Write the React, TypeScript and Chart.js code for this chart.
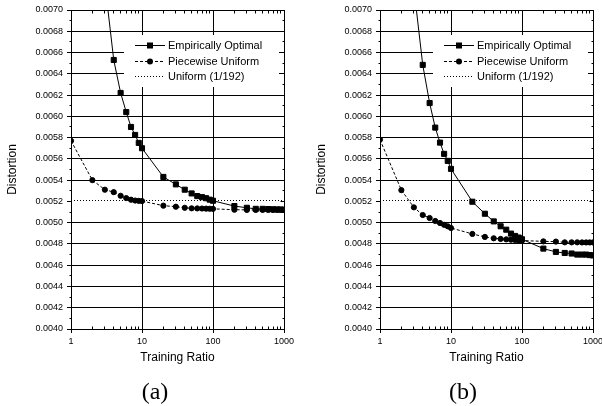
import React, { useEffect, useRef } from "react";
import { Chart, registerables } from "chart.js";

Chart.register(...registerables);
Chart.defaults.font.family = "'Liberation Sans', Arial, sans-serif";
Chart.defaults.color = "#000";

// ---------- data ----------
const SERIES_NAMES = ["Empirically Optimal", "Piecewise Uniform", "Uniform (1/192)"];
const PANEL_LABELS = ["(a)", "(b)"];
const X_TITLE = "Training Ratio";
const Y_TITLE = "Distortion";

const X_LABELS = [1, 10, 100, 1000];
const Y_MIN = 0.004;
const Y_MAX = 0.007;
const Y_STEP = 0.0002;
const UNIFORM = 1 / 192;
const UNIFORM_X = [1, 1000];

const X_EO = [3, 4, 5, 6, 7, 8, 9, 10, 20, 30, 40, 50, 60, 70, 80, 90, 100, 200, 300, 400, 500, 600, 700, 800, 900, 1000];
const X_PU = [1, 2, 3, 4, 5, 6, 7, 8, 9, 10, 20, 30, 40, 50, 60, 70, 80, 90, 100, 200, 300, 400, 500, 600, 700, 800, 900, 1000];

const EO_A = [0.00725, 0.00653, 0.00622, 0.00604, 0.0059, 0.005825, 0.00575, 0.0057, 0.00543, 0.00536, 0.00531, 0.005275, 0.00525, 0.00524, 0.00523, 0.005216, 0.005206, 0.005156, 0.00514, 0.00513, 0.00513, 0.005128, 0.005126, 0.005125, 0.005124, 0.005122];
const PU_A = [0.00577, 0.0054, 0.00531, 0.005287, 0.005253, 0.005231, 0.005216, 0.005208, 0.005205, 0.005203, 0.00516, 0.00515, 0.00514, 0.005135, 0.005134, 0.005133, 0.005132, 0.005131, 0.00513, 0.005122, 0.00512, 0.00512, 0.00512, 0.00512, 0.00512, 0.00512, 0.00512, 0.00512];

const EO_B = [0.007206, 0.006484, 0.006125, 0.005894, 0.005753, 0.005647, 0.005581, 0.005506, 0.005197, 0.005084, 0.005012, 0.004966, 0.004934, 0.004897, 0.004875, 0.00486, 0.004844, 0.004756, 0.004725, 0.004715, 0.00471, 0.0047, 0.0047, 0.0047, 0.004695, 0.004692];
const PU_B = [0.005781, 0.005306, 0.005144, 0.005072, 0.005044, 0.005016, 0.004997, 0.00498, 0.004966, 0.00495, 0.004894, 0.004866, 0.004853, 0.004847, 0.004843, 0.00484, 0.004837, 0.004834, 0.004832, 0.004824, 0.004822, 0.004815, 0.004815, 0.004815, 0.004814, 0.004814, 0.004814, 0.004814];

// ---------- helpers ----------
const al = (p: number) => Math.round(p - 0.5) + 0.5;

const framePlugin = {
  id: "frameTicks",
  afterDraw(chart: any) {
    const { ctx, chartArea: a } = chart;
    const xs = chart.scales.x;
    const ys = chart.scales.y;
    const L = al(a.left), R = al(a.right), T = al(a.top), B = al(a.bottom);
    ctx.save();
    ctx.strokeStyle = "#000";
    ctx.lineWidth = 1;
    ctx.setLineDash([]);
    ctx.beginPath();
    ctx.rect(L, T, R - L, B - T);
    // y ticks: majors inward on right, minors (midpoints) outward left / inward right
    const yt = ys.ticks.map((t: any) => t.value);
    yt.forEach((v: number, i: number) => {
      const py = al(ys.getPixelForValue(v));
      ctx.moveTo(R, py); ctx.lineTo(R - 4, py);
      if (i < yt.length - 1) {
        const pm = al(ys.getPixelForValue((v + yt[i + 1]) / 2));
        ctx.moveTo(L, pm); ctx.lineTo(L - 2, pm);
        ctx.moveTo(R, pm); ctx.lineTo(R - 2, pm);
      }
    });
    // x ticks: majors inward top, minors (2..9 per decade) inward top and bottom
    const xt = xs.ticks.map((t: any) => t.value);
    xt.forEach((v: number, i: number) => {
      const px = al(xs.getPixelForValue(v));
      ctx.moveTo(px, T); ctx.lineTo(px, T + 4);
      if (i < xt.length - 1) {
        for (let k = 2; k <= 9; k++) {
          const pm = al(xs.getPixelForValue(v * k));
          ctx.moveTo(pm, T); ctx.lineTo(pm, T + 3);
          ctx.moveTo(pm, B); ctx.lineTo(pm, B - 3);
        }
      }
    });
    ctx.stroke();
    ctx.restore();
  },
};

const legendPlugin = {
  id: "insideLegend",
  afterDatasetsDraw(chart: any) {
    const { ctx, chartArea: a } = chart;
    const left = a.left + 53;
    const top = a.top + 25;
    ctx.save();
    ctx.fillStyle = "#fff";
    ctx.fillRect(left, top, 155, 52);
    chart.data.datasets.forEach((ds: any, i: number) => {
      const yy = Math.round(top + 10 + i * 15.5) + 0.5;
      ctx.strokeStyle = "#000";
      ctx.lineWidth = 1;
      ctx.setLineDash(ds.borderDash || []);
      ctx.beginPath();
      ctx.moveTo(left + 11, yy);
      ctx.lineTo(left + 41, yy);
      ctx.stroke();
      ctx.setLineDash([]);
      ctx.fillStyle = "#000";
      if (ds.pointRadius > 0) {
        const cx = left + 26;
        if (ds.pointStyle === "rect") {
          ctx.fillRect(cx - 3, yy - 3, 6, 6);
        } else {
          ctx.beginPath();
          ctx.arc(cx, yy, 3, 0, Math.PI * 2);
          ctx.fill();
        }
      }
      ctx.font = "11px 'Liberation Sans', Arial, sans-serif";
      ctx.textBaseline = "middle";
      ctx.textAlign = "left";
      ctx.fillText(ds.label, left + 44, yy);
    });
    ctx.restore();
  },
};

function makeConfig(eo: number[], pu: number[]): any {
  return {
    type: "line",
    data: {
      datasets: [
        {
          label: SERIES_NAMES[0],
          data: X_EO.map((x, i) => ({ x, y: eo[i] })),
          borderColor: "#000",
          borderWidth: 1,
          pointStyle: "rect",
          pointRadius: 3.6,
          pointBackgroundColor: "#000",
          pointBorderColor: "#000",
          pointBorderWidth: 1,
          tension: 0,
        },
        {
          label: SERIES_NAMES[1],
          data: X_PU.map((x, i) => ({ x, y: pu[i] })),
          borderColor: "#000",
          borderWidth: 1,
          borderDash: [3, 2],
          pointStyle: "circle",
          pointRadius: 2.6,
          pointBackgroundColor: "#000",
          pointBorderColor: "#000",
          pointBorderWidth: 1,
          tension: 0,
        },
        {
          label: SERIES_NAMES[2],
          data: UNIFORM_X.map((x) => ({ x, y: UNIFORM })),
          borderColor: "#000",
          borderWidth: 1,
          borderDash: [1, 2],
          pointRadius: 0,
          tension: 0,
        },
      ],
    },
    options: {
      animation: false,
      responsive: false,
      events: [],
      layout: { padding: { left: 0, top: 10, right: 16, bottom: 41 } },
      plugins: { legend: { display: false }, tooltip: { enabled: false }, title: { display: false } },
      scales: {
        x: {
          type: "logarithmic",
          min: X_LABELS[0],
          max: X_LABELS[X_LABELS.length - 1],
          afterBuildTicks: (s: any) => {
            s.ticks = X_LABELS.map((v) => ({ value: v, major: true }));
          },
          afterFit: (s: any) => {
            s.height = 36;
          },
          ticks: {
            callback: (v: any) => String(v),
            font: { size: 9 },
            color: "#000",
            padding: 3,
            autoSkip: false,
            maxRotation: 0,
          },
          grid: { color: "#000", lineWidth: 1, tickLength: 4 },
          border: { color: "#000", width: 1 },
          title: { display: true, text: X_TITLE, font: { size: 12 }, color: "#000", padding: 0 },
        },
        y: {
          min: Y_MIN,
          max: Y_MAX,
          afterFit: (s: any) => {
            s.width = 71;
          },
          ticks: {
            stepSize: Y_STEP,
            callback: (v: any) => Number(v).toFixed(4),
            font: { size: 9 },
            color: "#000",
            padding: 4,
            autoSkip: false,
          },
          grid: {
            color: (c: any) => (c.tick && Math.abs(c.tick.value - UNIFORM) < Y_STEP / 4 ? "rgba(0,0,0,0)" : "#000"),
            tickColor: "#000",
            lineWidth: 1,
            tickLength: 4,
          },
          border: { color: "#000", width: 1 },
          title: { display: true, text: Y_TITLE, font: { size: 12 }, color: "#000", padding: { top: 5, bottom: 0 } },
        },
      },
    },
    plugins: [legendPlugin, framePlugin],
  };
}

function Panel({ eo, pu, left }: { eo: number[]; pu: number[]; left: number }) {
  const ref = useRef<HTMLCanvasElement>(null);
  useEffect(() => {
    const chart = new Chart(ref.current as HTMLCanvasElement, makeConfig(eo, pu));
    return () => chart.destroy();
  }, [eo, pu]);
  return (
    <canvas
      ref={ref}
      width={300}
      height={406}
      style={{ position: "absolute", left, top: 0, width: 300, height: 406 }}
    />
  );
}

const labelStyle = (cx: number): React.CSSProperties => ({
  position: "absolute",
  left: cx - 50,
  width: 100,
  top: 377,
  textAlign: "center",
  fontFamily: "'Liberation Serif', 'Times New Roman', serif",
  fontSize: 24,
  lineHeight: "28px",
  color: "#000",
});

export default function App() {
  return (
    <div
      style={{
        position: "fixed",
        left: 0,
        top: 0,
        width: 602,
        height: 406,
        overflow: "hidden",
        background: "#fff",
      }}
    >
      <Panel eo={EO_A} pu={PU_A} left={0} />
      <Panel eo={EO_B} pu={PU_B} left={309} />
      <div style={labelStyle(155)}>{PANEL_LABELS[0]}</div>
      <div style={labelStyle(463)}>{PANEL_LABELS[1]}</div>
    </div>
  );
}
